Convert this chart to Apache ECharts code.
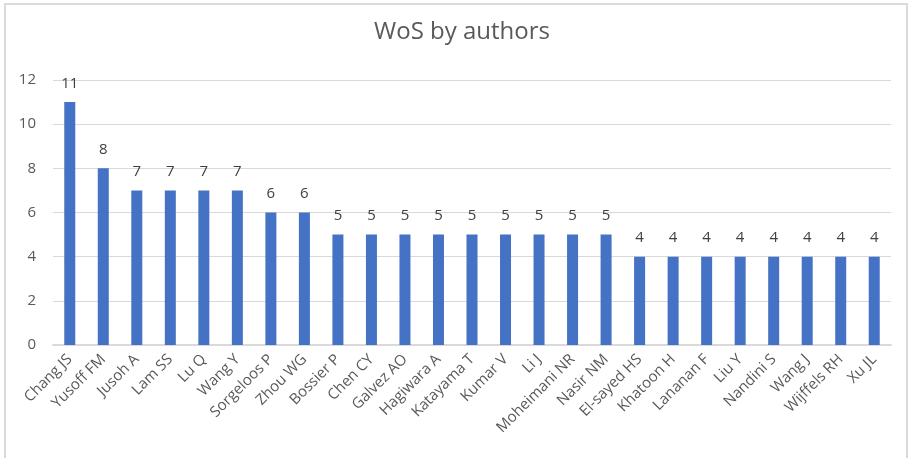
<!DOCTYPE html>
<html><head><meta charset="utf-8">
<script src="https://cdn.jsdelivr.net/npm/echarts@6/dist/echarts.min.js"></script>
<style>html,body{margin:0;padding:0;background:#fff}#c{width:909px;height:458px}</style>
</head><body><div id="c"></div>
<script>
const categories = ["Chang JS","Yusoff FM","Jusoh A","Lam SS","Lu Q","Wang Y","Sorgeloos P","Zhou WG","Bossier P","Chen CY","Galvez AO","Hagiwara A","Katayama T","Kumar V","Li J","Moheimani NR","Nasir NM","El-sayed HS","Khatoon H","Lananan F","Liu Y","Nandini S","Wang J","Wijffels RH","Xu JL"];
const values = [11,8,7,7,7,7,6,6,5,5,5,5,5,5,5,5,5,4,4,4,4,4,4,4,4];
const yTicks = {min:0, max:12, interval:2};
const chart = echarts.init(document.getElementById('c'));
const font = '"Open Sans", sans-serif';
chart.setOption({
  animation:false,
  title:{text:'WoS by authors', left:457, top:15, textAlign:'center',
    textStyle:{fontFamily:font, fontSize:24, fontWeight:'normal', color:'#595959'}},
  graphic:[{type:'rect', shape:{x:5, y:4, width:902, height:470}, style:{fill:'none', stroke:'#d9d9d9', lineWidth:2}, silent:true}],
  grid:{left:53, right:18, top:80, bottom:113},
  xAxis:{type:'category', data:categories,
    axisLine:{lineStyle:{color:'#d9d9d9', width:2}}, axisTick:{show:false},
    axisLabel:{rotate:45, interval:0, color:'#595959', fontFamily:font, fontSize:15, margin:12}},
  yAxis:{type:'value', min:yTicks.min, max:yTicks.max, interval:yTicks.interval,
    axisLine:{show:false}, axisTick:{show:false},
    splitLine:{lineStyle:{color:'#d9d9d9', width:1}},
    axisLabel:{color:'#595959', fontFamily:font, fontSize:15, margin:17}},
  series:[{type:'bar', data:values, barWidth:11,
    itemStyle:{color:'#4472C4'},
    label:{show:true, position:'top', distance:11, color:'#404040', fontFamily:font, fontSize:15}}]
});
</script></body></html>
